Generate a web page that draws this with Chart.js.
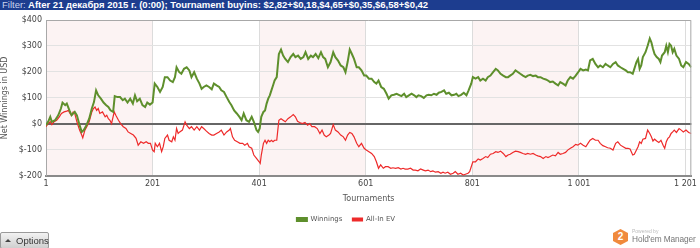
<!DOCTYPE html>
<html>
<head>
<meta charset="utf-8">
<script src="https://cdn.jsdelivr.net/npm/chart.js@4.4.1/dist/chart.umd.min.js"></script>
<style>
    body { margin: 0; width: 700px; height: 248px; overflow: hidden; background: #fff; position: relative; font-family: "DejaVu Sans", Verdana, sans-serif; }
    #filterBar { position: absolute; left: 0; top: 0; width: 700px; height: 10px; background: #1d3d8f; color: #fff; font: bold 9.5px "Liberation Sans", Arial, sans-serif; line-height: 10px; white-space: nowrap; padding-left: 2px; box-sizing: border-box; }
    #filterBar span { font-weight: normal; color: #c9d3ee; }
    #chartBox { position: absolute; left: 0; top: 10px; width: 700px; height: 223px; }
    #optionsBtn { position: absolute; left: 0; top: 232px; width: 47px; height: 15px; border: 1px solid #9a9a9a; border-radius: 2px; background: linear-gradient(#f2f2f2, #cfcfcf); font: 9.5px "Liberation Sans", Arial, sans-serif; color: #333; line-height: 15px; box-sizing: content-box; }
    #optionsBtn i { position: absolute; left: 4px; top: 6px; width: 0; height: 0; border-left: 3px solid transparent; border-right: 3px solid transparent; border-bottom: 3px solid #444; }
    #optionsBtn b { position: absolute; left: 15px; top: 0; font-weight: normal; }
    #hmLogo { position: absolute; left: 613px; top: 229px; width: 87px; height: 18px; }
    #hmLogo .hex { position: absolute; left: 0; top: 0; width: 15px; height: 16px; background: #f08a3c; clip-path: polygon(50% 0, 100% 25%, 100% 75%, 50% 100%, 0 75%, 0 25%); color: #fff; font: bold 10px "Liberation Sans", Arial, sans-serif; text-align: center; line-height: 16px; }
    #hmLogo .pw { position: absolute; left: 19px; top: -1px; font: 5px "Liberation Sans", Arial, sans-serif; color: #bbb; }
    #hmLogo .nm { position: absolute; left: 19px; top: 5px; font: 8.3px "Liberation Sans", Arial, sans-serif; color: #777; white-space: nowrap; letter-spacing: -0.1px; }
</style>
</head>
<body>
<div id="filterBar"><span>Filter:</span> After 21 декабря 2015 г. (0:00); Tournament buyins: $2,82+$0,18,$4,65+$0,35,$6,58+$0,42</div>
<div id="chartBox"><canvas id="netChart"></canvas></div>
<div id="optionsBtn"><i></i><b>Options</b></div>
<div id="hmLogo"><div class="hex">2</div><div class="pw">Powered by</div><div class="nm">Hold'em Manager</div></div>
<script>
const xTicks = [1, 201, 401, 601, 801, 1001, 1201];
const bandRanges = [[1, 201], [401, 601], [801, 1001]];

const winTournaments = [1,5,9,12,18,24,29,32,37,40,45,49,55,59,64,68,72,77,82,87,91,95,99,104,109,114,118,122,127,130,135,140,145,149,154,159,164,168,172,177,182,187,191,196,201,205,210,215,220,224,229,234,239,243,246,251,255,260,265,270,274,279,284,289,293,297,302,307,312,316,321,326,330,335,340,345,349,354,359,364,368,372,377,382,387,391,396,399,402,405,409,412,415,418,421,424,427,430,434,436,438,442,446,450,455,460,465,469,474,479,484,488,493,498,502,507,512,517,521,525,530,535,540,544,549,554,559,563,567,571,575,579,584,588,593,598,602,607,612,617,621,625,630,635,640,644,649,654,659,663,668,673,677,682,687,692,696,700,705,710,715,719,724,729,734,738,743,748,752,757,762,767,771,775,780,785,790,794,799,802,807,812,816,821,826,830,835,840,845,849,854,859,864,868,872,877,882,887,891,896,901,905,910,915,920,924,929,934,939,943,947,952,957,962,966,971,976,980,985,990,995,999,1004,1009,1014,1018,1022,1027,1032,1037,1041,1046,1051,1055,1060,1065,1070,1074,1079,1084,1089,1093,1097,1102,1105,1109,1112,1115,1118,1121,1126,1130,1134,1137,1140,1143,1147,1151,1154,1157,1162,1165,1168,1171,1174,1177,1180,1184,1189,1193,1197,1202,1207,1212];
const winnings = [-5,8,27,8,14,33,59,82,72,78,52,33,46,33,-5,-31,-24,-5,20,59,84,129,110,97,82,72,65,52,46,107,103,103,91,97,82,97,78,110,87,97,72,65,82,74,82,155,142,123,142,180,180,167,161,180,218,199,193,212,218,206,180,199,174,155,135,142,148,142,133,155,148,142,129,123,103,84,72,52,40,27,14,40,14,8,27,8,-24,-31,-18,27,46,52,78,97,110,129,148,167,180,225,269,286,263,250,238,257,269,257,263,250,257,276,250,263,257,269,253,276,257,250,218,238,276,257,244,225,218,199,238,286,269,250,218,218,206,186,186,174,174,161,155,167,142,135,116,97,110,112,116,112,107,116,103,110,116,110,103,110,107,100,110,112,110,116,112,120,123,129,116,120,110,112,116,107,112,120,110,129,155,180,174,180,167,174,167,180,186,199,212,206,193,186,180,180,186,193,206,199,193,186,180,186,189,184,186,180,180,174,171,167,161,163,155,148,161,155,148,167,180,174,186,197,212,206,209,206,244,250,231,218,225,218,231,225,218,231,238,225,218,212,206,199,199,193,212,238,250,212,225,257,276,301,329,314,289,269,257,250,238,263,276,301,276,308,301,276,289,263,250,225,218,238,231,218];

const evTournaments = [1,5,9,12,16,21,26,30,35,40,43,46,49,52,55,59,64,68,70,74,79,82,87,90,93,96,99,102,107,112,115,118,121,124,129,132,137,141,146,151,155,160,165,170,174,179,184,189,193,197,201,204,206,210,214,218,221,224,229,232,237,240,243,246,249,252,257,260,262,265,270,274,279,284,289,293,297,302,307,312,316,321,326,330,335,340,345,347,351,355,360,365,370,374,379,382,387,391,396,401,403,405,409,412,415,418,421,424,427,430,434,436,438,442,446,450,455,460,465,469,473,477,482,487,492,496,500,505,510,515,519,523,527,532,535,540,544,549,554,559,563,567,571,575,579,584,588,593,598,602,607,612,617,621,625,629,634,638,643,648,652,657,662,667,671,675,680,685,690,694,699,704,709,713,718,723,727,732,737,742,746,750,755,760,765,769,774,779,784,788,793,796,799,802,807,812,816,821,826,830,835,840,845,849,854,859,864,868,872,877,882,887,891,896,901,905,910,915,920,924,929,934,939,943,947,952,957,962,966,971,976,980,985,990,995,999,1004,1009,1014,1018,1022,1027,1032,1037,1041,1046,1051,1055,1060,1065,1070,1074,1079,1084,1089,1093,1097,1102,1105,1109,1112,1115,1118,1121,1126,1130,1134,1137,1140,1143,1147,1151,1155,1159,1162,1165,1168,1171,1174,1177,1180,1184,1189,1193,1197,1202,1207,1212];
const allInEv = [-11,1,8,-3,8,14,27,40,46,49,52,40,33,46,40,8,-24,-43,-54,-24,-5,8,46,59,65,52,59,40,46,27,33,20,14,1,46,33,14,1,-11,-18,-31,-37,-43,-56,-82,-69,-75,-69,-75,-75,-101,-107,-75,-88,-75,-107,-88,-56,-43,-63,-69,-50,-63,-18,-37,-31,-24,-5,8,-5,-18,-11,-24,-11,-24,-11,-18,-28,-37,-43,-43,-37,-31,-24,-43,-31,-24,-18,-50,-63,-69,-75,-75,-82,-75,-88,-94,-120,-133,-146,-152,-120,-75,-63,-75,-63,-69,-63,-69,-63,-63,-24,14,20,14,8,20,27,36,27,10,5,1,5,-5,1,-11,-11,-18,-37,-24,-43,-50,-43,-37,-3,-24,-31,-43,-50,-63,-43,-33,-37,-50,-75,-88,-75,-94,-101,-107,-114,-126,-146,-171,-158,-171,-165,-165,-171,-169,-171,-169,-174,-171,-174,-174,-171,-178,-178,-181,-174,-178,-181,-178,-184,-181,-186,-184,-190,-186,-190,-186,-194,-190,-184,-194,-190,-197,-194,-190,-184,-165,-146,-146,-135,-139,-133,-126,-130,-117,-114,-107,-110,-105,-114,-126,-120,-117,-110,-105,-107,-110,-114,-117,-114,-117,-114,-120,-123,-126,-133,-126,-130,-126,-120,-123,-110,-117,-114,-110,-101,-94,-88,-79,-82,-75,-82,-88,-75,-63,-56,-63,-63,-75,-84,-88,-92,-94,-101,-75,-69,-82,-88,-94,-94,-97,-120,-117,-101,-88,-69,-75,-59,-56,-24,-37,-50,-66,-59,-66,-72,-63,-82,-94,-69,-56,-50,-37,-31,-24,-33,-18,-24,-31,-24,-33,-37];

const winPoints = winTournaments.map((t, i) => ({ x: t, y: winnings[i] }));
const evPoints = evTournaments.map((t, i) => ({ x: t, y: allInEv[i] }));

function groupDigits(v) {
    return String(v).replace(/\B(?=(\d{3})+(?!\d))/g, ' ');
}

// light pink stripes behind every other 200 tournaments + frame
const bandPlugin = {
    id: 'bands',
    beforeDraw(chart) {
        const { ctx, chartArea, scales } = chart;
        ctx.save();
        ctx.fillStyle = '#fcf3f3';
        bandRanges.forEach(r => {
            const x1 = scales.x.getPixelForValue(r[0]);
            const x2 = scales.x.getPixelForValue(r[1]);
            ctx.fillRect(x1, chartArea.top, x2 - x1, chartArea.bottom - chartArea.top);
        });
        ctx.restore();
    },
    afterDraw(chart) {
        const { ctx, chartArea } = chart;
        ctx.save();
        ctx.strokeStyle = '#a8a8a8';
        ctx.lineWidth = 1;
        ctx.beginPath();
        ctx.moveTo(chartArea.left, chartArea.top + 0.5);
        ctx.lineTo(chartArea.right - 0.5, chartArea.top + 0.5);
        ctx.lineTo(chartArea.right - 0.5, chartArea.bottom);
        ctx.stroke();
        ctx.restore();
    }
};

const tickFont = { family: '"DejaVu Sans", Verdana, sans-serif', size: 8 };

new Chart(document.getElementById('netChart'), {
    type: 'line',
    data: {
        datasets: [{
            label: 'Winnings',
            data: winPoints,
            borderColor: '#5e8f2c',
            backgroundColor: '#5e8f2c',
            borderWidth: 2,
            pointRadius: 0,
            tension: 0
        }, {
            label: 'All-In EV',
            data: evPoints,
            borderColor: '#ee2a2a',
            backgroundColor: '#ee2a2a',
            borderWidth: 1.2,
            pointRadius: 0,
            tension: 0
        }]
    },
    options: {
        responsive: true,
        maintainAspectRatio: false,
        animation: false,
        layout: { padding: { top: 10, right: 8, left: 0, bottom: 0 } },
        plugins: {
            legend: {
                position: 'bottom',
                labels: {
                    boxWidth: 10,
                    boxHeight: 3,
                    padding: 10,
                    color: '#555',
                    font: { family: '"DejaVu Sans", Verdana, sans-serif', size: 7 }
                }
            },
            tooltip: { enabled: false }
        },
        scales: {
            x: {
                type: 'linear',
                min: 1,
                max: 1212,
                afterBuildTicks: scale => { scale.ticks = xTicks.map(v => ({ value: v })); },
                ticks: {
                    autoSkip: false,
                    maxRotation: 0,
                    padding: 3,
                    color: '#444',
                    font: tickFont,
                    callback: v => groupDigits(v)
                },
                grid: { color: '#dcdcdc', drawTicks: false },
                border: { color: '#8a8a8a', width: 2 },
                title: {
                    display: true,
                    text: 'Tournaments',
                    color: '#555',
                    font: { family: '"DejaVu Sans", Verdana, sans-serif', size: 8 },
                    padding: { top: 3, bottom: 2 }
                }
            },
            y: {
                min: -200,
                max: 400,
                afterFit: scale => { scale.width = 46; },
                ticks: {
                    stepSize: 100,
                    padding: 4,
                    color: '#444',
                    font: tickFont,
                    callback: v => '$' + v
                },
                grid: {
                    drawTicks: false,
                    color: c => c.tick && c.tick.value === 0 ? '#666' : '#e2e2e2',
                    lineWidth: c => c.tick && c.tick.value === 0 ? 2 : 1
                },
                border: { color: '#a8a8a8', width: 1 },
                title: {
                    display: true,
                    text: 'Net Winnings in USD',
                    color: '#555',
                    font: { family: '"DejaVu Sans", Verdana, sans-serif', size: 8 },
                    padding: { top: 0, bottom: 1 }
                }
            }
        }
    },
    plugins: [bandPlugin]
});
</script>
</body>
</html>
